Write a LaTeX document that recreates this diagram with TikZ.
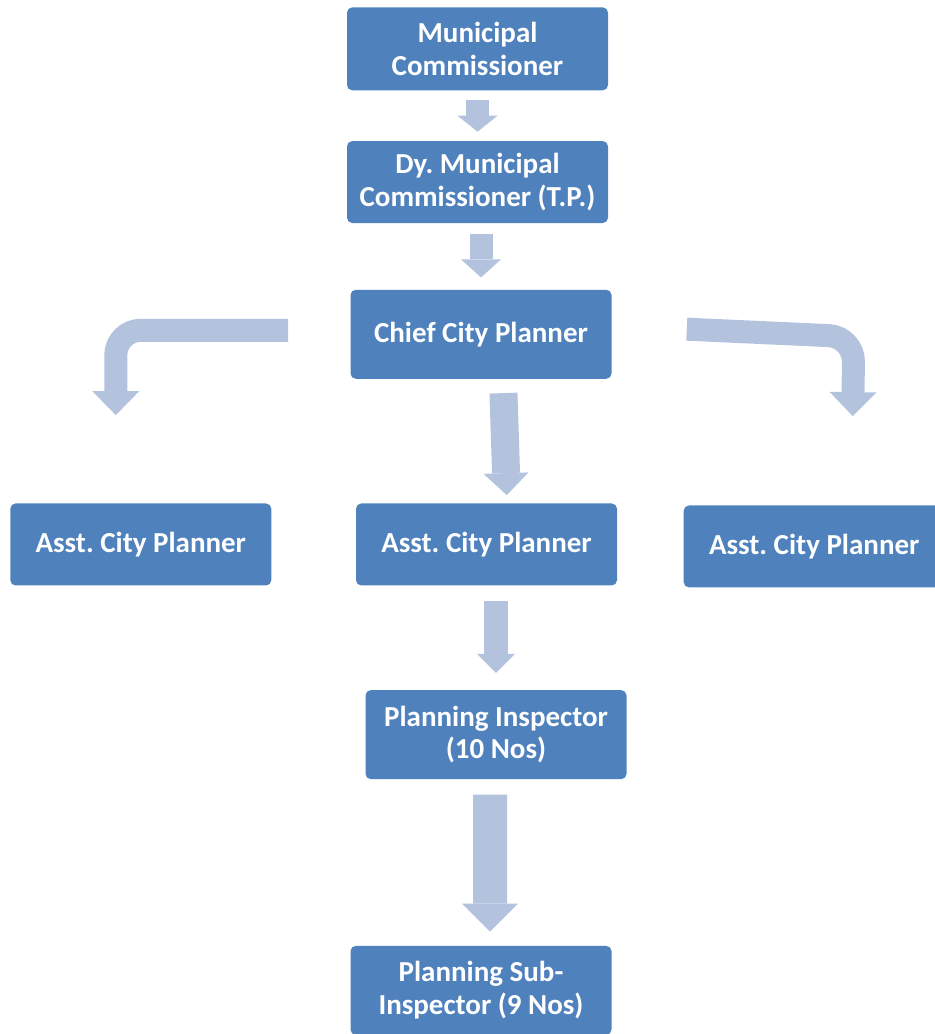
\documentclass[tikz,border=0pt]{standalone}
\usepackage{fontspec}
\setmainfont{Carlito}
\usepackage{xcolor}
\usepackage{tikz}
\usetikzlibrary{arrows.meta,positioning,calc}

\definecolor{boxblue}{RGB}{79,129,189}
\definecolor{arrblue}{RGB}{179,195,222}

\begin{document}
\frenchspacing
\begin{tikzpicture}[
  node distance=1cm,
  obox/.style={rectangle,rounded corners=3pt,fill=boxblue,text=white,minimum width=5.22cm,minimum height=1.64cm,inner sep=0pt,align=center,font=\fontsize{16.5}{18.6}\selectfont\bfseries},
  blockarr/.style={draw=arrblue,line width=0.46cm,-{Triangle[width=0.8cm,length=0.34cm,line width=0pt]}}
]
\useasboundingbox (0,0) rectangle (18.68,-20.68);

\node[obox,minimum height=1.66cm,anchor=north] (mc) at (9.55,-0.14) {Municipal\\Commissioner};
\node[obox,below=1.0cm of mc] (dmc) {Dy. Municipal\\Commissioner (T.P.)};
\node[obox,minimum height=1.78cm,below=1.32cm of dmc,xshift=0.07cm] (ccp) {Chief City Planner};
\node[obox,below=2.48cm of ccp,xshift=0.11cm] (acpM) {Asst. City Planner};
\node[obox,left=1.68cm of acpM] (acpL) {Asst. City Planner};
\node[obox,right=1.32cm of acpM,yshift=-0.04cm] (acpR) {Asst. City Planner};
\node[obox,minimum height=1.78cm,below=2.08cm of acpM,xshift=0.19cm] (pi) {Planning Inspector\\(10 Nos)};
\node[obox,minimum height=1.78cm,below=3.32cm of pi,xshift=-0.3cm] (psi) {Planning Sub-\\Inspector (9 Nos)};

% straight arrows down the chain
\draw[blockarr,shorten <=0.18cm,shorten >=0.18cm,-{Triangle[width=0.8cm,length=0.32cm,line width=0pt]}] (mc) -- (dmc);
\draw[blockarr,shorten <=0.22cm,shorten >=0.24cm,-{Triangle[width=0.8cm,length=0.36cm,line width=0pt]}] (ccp.north |- dmc.south) -- (ccp.north);
\draw[blockarr,line width=0.56cm,shorten <=0.28cm,shorten >=0.16cm,-{Triangle[width=0.9cm,length=0.44cm,line width=0pt]}] ([xshift=0.44cm]ccp.south) -- ([xshift=0.41cm]acpM.north);
\draw[blockarr,line width=0.48cm,shorten <=0.3cm,shorten >=0.34cm,-{Triangle[width=0.76cm,length=0.38cm,line width=0pt]}] (pi.north |- acpM.south) -- (pi.north);
\draw[blockarr,line width=0.68cm,shorten <=0.3cm,shorten >=0.28cm,-{Triangle[width=1.12cm,length=0.56cm,line width=0pt]}] ([xshift=-0.12cm]pi.south) -- ([xshift=0.18cm]psi.north);

% bent arrows to the side planners
\draw[blockarr,rounded corners=0.5cm,shorten <=1.24cm,shorten >=1.76cm,-{Triangle[width=0.94cm,length=0.48cm,line width=0pt]}]
  ([yshift=0.08cm]ccp.west) -- ($(acpL.north |- ccp.west)+(-0.5,0.08)$) -- ([xshift=-0.5cm]acpL.north);
\draw[blockarr,rounded corners=0.5cm,shorten <=1.5cm,shorten >=1.78cm,-{Triangle[width=0.94cm,length=0.48cm,line width=0pt]}]
  ([yshift=0.17cm]ccp.east) -- ($(acpR.north |- ccp.east)+(0.79,-0.05)$) -- ([xshift=0.75cm]acpR.north);
\end{tikzpicture}
\end{document}
